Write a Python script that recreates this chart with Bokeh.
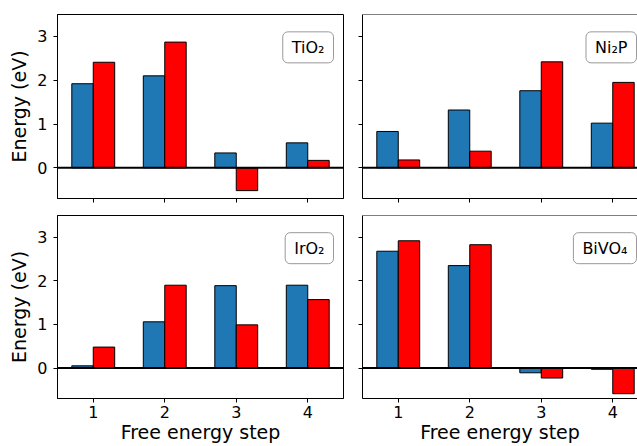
import numpy as np
from bokeh.plotting import figure
from bokeh.models import Span, Label, FixedTicker, Range1d
from bokeh.layouts import gridplot
from bokeh.embed import file_html
from bokeh.resources import INLINE

steps = [1, 2, 3, 4]
materials = ["TiO₂", "Ni₂P", "IrO₂", "BiVO₄"]
blue_vals = {
    "TiO₂": [1.92, 2.10, 0.34, 0.57],
    "Ni₂P": [0.83, 1.32, 1.76, 1.02],
    "IrO₂": [0.05, 1.06, 1.89, 1.90],
    "BiVO₄": [2.68, 2.35, -0.11, -0.03],
}
red_vals = {
    "TiO₂": [2.41, 2.87, -0.52, 0.17],
    "Ni₂P": [0.18, 0.38, 2.42, 1.95],
    "IrO₂": [0.48, 1.90, 0.99, 1.57],
    "BiVO₄": [2.92, 2.83, -0.23, -0.59],
}
y_ticks = [0, 1, 2, 3]
x_label = "Free energy step"
y_label = "Energy (eV)"

FONT = "DejaVu Sans"
BLUE = "#1f77b4"
RED = "#ff0000"
BAR_W = 0.3


def make_panel(name, col, row):
    left = col == 0
    bottom = row == 1
    frame_w = 286 if left else 275
    x_end = 4.5 if left else 0.5 + 275 / 71.5
    mbl = 57 if left else 17
    mbr = 2 if left else 0
    if row == 0:
        mbt, frame_h, mbb = 14, 184, 16
    else:
        mbt, frame_h, mbb = 1, 183, 48
    p = figure(
        width=mbl + frame_w + mbr,
        height=mbt + frame_h + mbb,
        x_range=Range1d(0.5, x_end),
        y_range=Range1d(-0.7, 3.5),
        output_backend="svg",
        toolbar_location=None,
        tools="",
        min_border_left=mbl,
        min_border_right=mbr,
        min_border_top=mbt,
        min_border_bottom=mbb,
    )
    p.xgrid.visible = False
    p.ygrid.visible = False
    p.background_fill_color = "white"
    p.border_fill_color = "white"
    if left:
        p.outline_line_color = "black"
        p.outline_line_width = 1
    else:
        p.outline_line_color = None
        p.add_layout(Span(location=3.5, dimension="width", line_color="black", line_width=1))

    steps_arr = np.array(steps, dtype=float)
    p.vbar(x=steps_arr - BAR_W / 2, width=BAR_W, top=blue_vals[name], bottom=0,
           fill_color=BLUE, line_color="black", line_width=1)
    p.vbar(x=steps_arr + BAR_W / 2, width=BAR_W, top=red_vals[name], bottom=0,
           fill_color=RED, line_color="black", line_width=1)
    p.add_layout(Span(location=0, dimension="width", line_color="black", line_width=2))

    for ax in (p.xaxis[0], p.yaxis[0]):
        ax.major_tick_out = 4
        ax.major_tick_in = 0
        ax.minor_tick_line_color = None
        ax.major_tick_line_color = "black"
        ax.axis_line_color = "black"
        ax.major_label_text_font = FONT
        ax.major_label_text_color = "black"
        ax.major_label_text_font_size = "16px"
        ax.axis_label_text_font = FONT
        ax.axis_label_text_font_size = "19px"
        ax.axis_label_text_font_style = "normal"
        ax.axis_label_text_color = "black"
    p.xaxis.ticker = FixedTicker(ticks=steps)
    p.yaxis.ticker = FixedTicker(ticks=y_ticks)

    if bottom:
        p.xaxis.axis_label = x_label
        p.xaxis.major_label_standoff = 3
        p.xaxis.axis_label_standoff = 0
    else:
        p.xaxis.major_label_overrides = {t: "" for t in steps}
        p.xaxis.major_label_text_font_size = "0px"
        p.xaxis.major_label_standoff = 0
    if left:
        p.yaxis.axis_label = y_label
        p.yaxis.major_label_standoff = 6
        p.yaxis.axis_label_standoff = 4
    else:
        p.yaxis.major_label_overrides = {t: "" for t in y_ticks}
        p.yaxis.major_label_text_font_size = "0px"
        p.yaxis.major_label_standoff = 0

    lx = 4.36 if left else 4.332
    p.add_layout(Label(
        x=lx, y=2.75, text=name, text_align="right", text_baseline="middle",
        text_font=FONT, text_font_size="16px", text_color="black",
        background_fill_color="white", border_line_color="#999999",
        border_line_width=1, border_radius=5, padding=(9, 6),
    ))
    return p


panels = [make_panel(m, i % 2, i // 2) for i, m in enumerate(materials)]
grid = gridplot([[panels[0], panels[1]], [panels[2], panels[3]]], toolbar_location=None)

open("out.html", "w").write(file_html(grid, INLINE))
